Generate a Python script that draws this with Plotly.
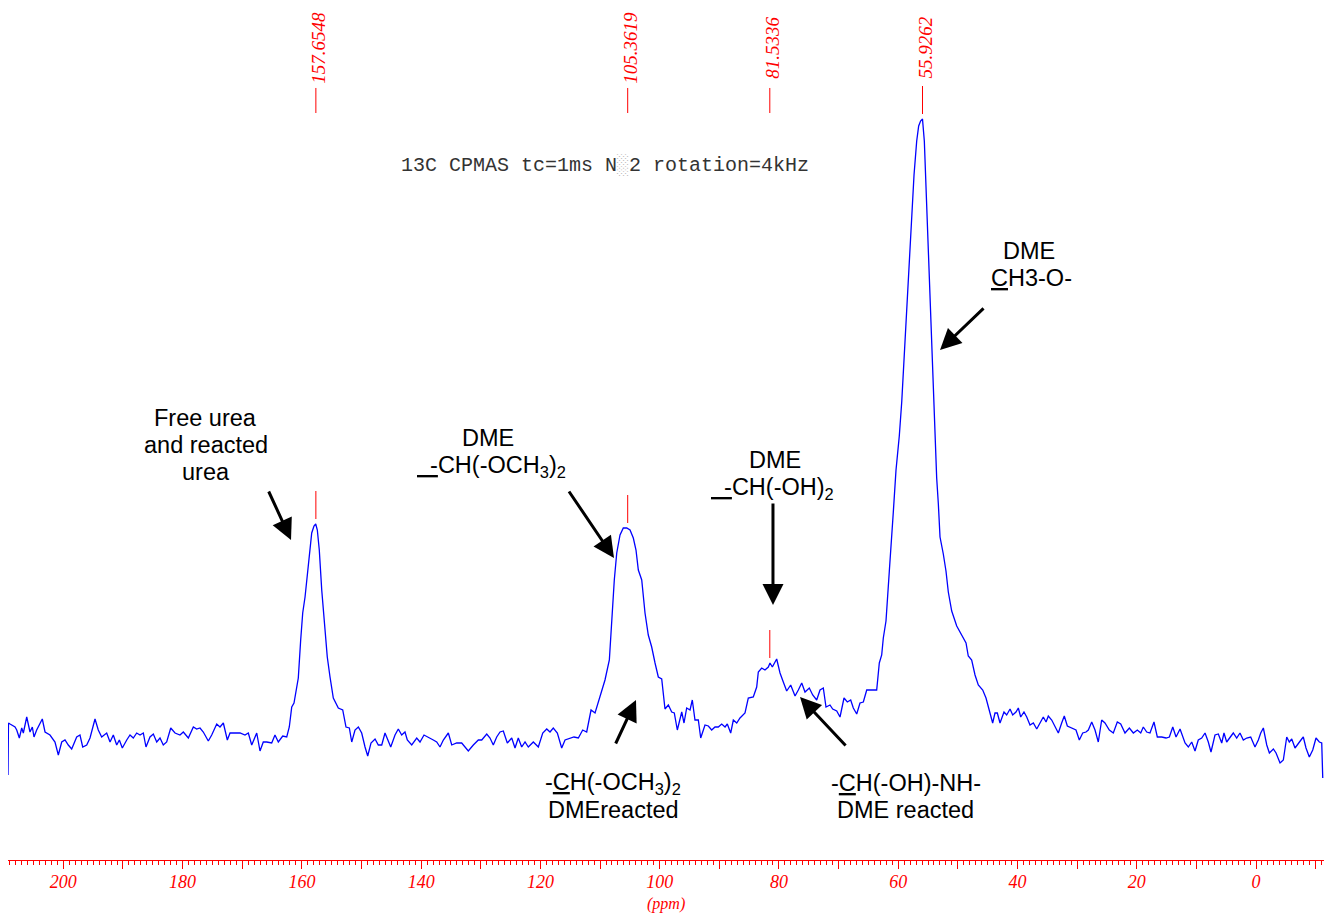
import plotly.graph_objects as go

# 13C CPMAS spectrum (chemical shift in ppm, intensity in arbitrary units)
PPM = [
    209.28, 209.20, 208.94, 208.10, 207.82, 207.38, 206.98, 206.71, 206.14, 205.59, 205.20, 204.92, 204.47,
    203.53, 203.07, 202.24, 201.40, 200.84, 200.27, 199.72, 199.17, 198.60, 197.76, 197.21, 196.75, 196.08,
    195.53, 194.69, 194.14, 193.57, 192.73, 192.17, 191.62, 191.05, 190.61, 190.11, 189.37, 188.82, 188.27,
    187.70, 187.14, 186.59, 186.14, 185.47, 184.91, 184.34, 183.79, 183.24, 182.67, 181.99, 181.27, 180.44,
    179.88, 179.04, 178.20, 177.64, 177.08, 176.53, 175.69, 175.12, 174.28, 173.73, 173.17, 172.50, 172.05,
    171.21, 170.37, 169.54, 168.98, 168.41, 167.57, 167.02, 166.47, 165.90, 165.06, 164.51, 163.95, 163.21,
    162.54, 162.11, 161.70, 161.32, 160.60, 160.20, 159.86, 159.47, 159.19, 158.75, 158.35, 157.97, 157.68,
    157.41, 157.08, 156.67, 156.29, 155.74, 155.28, 154.73, 153.89, 153.15, 152.60, 152.04, 151.64, 151.09,
    150.53, 149.97, 149.41, 148.96, 148.41, 147.73, 147.18, 146.61, 146.06, 145.51, 145.10, 144.38, 143.83,
    143.26, 142.71, 142.32, 141.58, 140.74, 140.19, 139.52, 138.80, 137.96, 137.39, 136.84, 136.28, 135.44,
    134.87, 134.04, 133.20, 132.64, 132.09, 131.25, 130.41, 129.84, 129.00, 128.45, 127.90, 127.33, 126.77,
    126.22, 125.55, 124.81, 124.26, 123.71, 123.14, 122.58, 122.03, 121.19, 120.35, 119.61, 118.94, 118.39,
    117.84, 117.16, 116.43, 115.87, 115.04, 114.37, 113.64, 112.91, 112.24, 111.51, 110.84, 110.01, 109.17,
    108.44, 108.04, 107.61, 107.20, 106.65, 106.10, 105.53, 104.97, 104.42, 103.97, 103.58, 103.01, 102.46,
    101.91, 101.34, 100.78, 100.23, 99.66, 99.11, 98.55, 97.98, 97.55, 97.04, 96.30, 95.92, 95.47,
    94.91, 94.53, 94.08, 93.52, 93.12, 92.40, 91.84, 91.28, 90.72, 90.17, 89.60, 89.04, 88.66,
    88.09, 87.65, 87.08, 86.53, 85.69, 85.14, 84.30, 83.73, 83.46, 82.89, 82.34, 81.78, 81.50,
    81.11, 80.38, 79.82, 79.27, 78.70, 78.03, 77.30, 76.75, 76.18, 75.63, 74.91, 74.34, 73.67,
    73.11, 72.56, 72.11, 71.44, 70.99, 70.31, 69.76, 69.09, 68.53, 67.97, 67.53, 66.96, 66.41,
    65.85, 65.28, 64.73, 64.17, 63.61, 63.17, 62.77, 62.50, 62.05, 61.49, 61.09, 60.82, 60.37,
    59.82, 59.41, 59.03, 58.57, 58.14, 57.74, 57.35, 56.90, 56.57, 56.25, 55.93, 55.62, 55.22,
    54.83, 54.55, 54.21, 53.83, 53.55, 53.27, 52.99, 52.44, 51.99, 51.60, 51.03, 50.19, 49.35,
    48.63, 48.25, 47.68, 47.12, 46.57, 45.83, 45.28, 44.61, 44.16, 43.77, 43.38, 42.93, 42.26,
    41.81, 41.25, 40.80, 40.25, 39.86, 39.46, 38.91, 38.45, 37.90, 37.34, 36.77, 36.22, 35.67,
    35.21, 34.83, 34.26, 33.71, 33.15, 32.59, 32.15, 31.64, 30.91, 30.19, 29.63, 29.06, 28.51,
    28.12, 27.55, 27.00, 26.45, 25.88, 25.33, 24.60, 23.93, 23.26, 22.69, 21.97, 21.24, 20.57,
    19.90, 19.33, 18.90, 18.33, 17.78, 17.11, 16.55, 15.81, 15.09, 14.53, 13.96, 13.41, 12.74,
    11.90, 11.35, 10.78, 10.23, 9.68, 9.11, 8.55, 8.00, 7.55, 6.88, 6.32, 5.75, 5.37,
    4.92, 4.36, 3.81, 3.24, 2.69, 2.13, 1.56, 0.89, 0.17, -0.39, -0.79, -1.23, -1.80,
    -2.24, -2.91, -3.36, -4.03, -4.58, -5.15, -5.58, -5.99, -6.54, -7.09, -7.66, -7.93, -8.38,
    -8.94, -9.51, -10.06, -10.62, -11.02, -11.19,
]
INTENSITY = [
    -30, 22, 21, 18, 15, 7, 17, 12, 28, 13, 18, 8, 15,
    26, 13, 10, 3, -10, 3, 5, 0, -4, 8, 10, -2, 0,
    7, 26, 15, 8, 12, 3, 10, 0, 5, -3, 5, 10, 7,
    12, 10, 12, -2, 8, 11, 3, 7, 0, 3, 17, 12, 10,
    13, 7, 18, 16, 17, 13, 4, 10, 21, 18, 22, 5, 12,
    12, 12, 10, 12, 0, 12, -6, 3, 3, 2, 10, 3, 9,
    8, 18, 38, 42, 67, 105, 132, 148, 165, 195, 212, 219, 221,
    215, 195, 155, 125, 88, 68, 47, 37, 35, 18, 17, 3, 15,
    18, 12, -2, -11, 2, 6, 0, 0, 12, 3, -2, 10, 16,
    10, 13, 5, 0, 7, 3, 10, 8, 5, 3, -2, 5, 12,
    0, 2, 2, -2, -6, 0, 5, 5, 11, 7, 0, 8, 13,
    14, 2, 7, -3, 7, -2, 3, -2, 3, -2, 12, 16, 13,
    17, 12, -3, 5, 7, 8, 7, 15, 13, 35, 32, 48, 65,
    85, 125, 165, 192, 210, 217, 217, 215, 207, 195, 175, 165, 132,
    110, 98, 82, 68, 66, 36, 40, 33, 32, 15, 33, 22, 37,
    35, 45, 25, 25, 7, 20, 19, 15, 18, 18, 21, 18, 21,
    12, 25, 22, 27, 32, 47, 48, 58, 73, 77, 75, 78, 82,
    78, 86, 72, 63, 54, 60, 49, 55, 62, 53, 57, 50, 45,
    55, 57, 38, 40, 36, 34, 28, 47, 43, 45, 37, 31, 42,
    43, 55, 55, 55, 55, 82, 90, 107, 124, 174, 216, 233, 275,
    309, 343, 385, 427, 486, 528, 570, 604, 619, 624, 626, 604, 541,
    477, 435, 376, 309, 267, 241, 208, 191, 174, 153, 134, 119, 109,
    102, 89, 85, 70, 60, 55, 47, 32, 22, 32, 32, 22, 33,
    30, 36, 30, 33, 37, 28, 33, 28, 20, 22, 16, 22, 28,
    23, 29, 25, 18, 12, 22, 29, 19, 17, 15, 5, 12, 13,
    15, 23, 15, 3, 25, 22, 15, 12, 23, 21, 12, 17, 12,
    15, 12, 18, 13, 12, 23, 8, 8, 7, 8, 18, 8, 16,
    2, -2, 3, -6, 5, 7, 12, 3, -7, 10, 11, 2, 12,
    3, 8, 12, 7, 12, 5, 7, 8, -2, 5, 12, 17, 0,
    -8, -4, -8, -18, -15, 8, 3, 6, -3, 2, 6, 8, -3,
    -12, -5, 7, 3, 2, -33,
]

PEAK_PPM = [157.6548, 105.3619, 81.5336, 55.9262]
PEAK_LABELS = ["157.6548", "105.3619", "81.5336", "55.9262"]
PEAK_HEIGHT = [221, 217, 82, 626]

TICK_VALS = [200, 190, 180, 170, 160, 150, 140, 130, 120, 110, 100, 90, 80, 70, 60, 50, 40, 30, 20, 10, 0, -10]
TICK_TEXT = ["200", "", "180", "", "160", "", "140", "", "120", "", "100", "", "80", "", "60", "", "40", "", "20", "", "0", ""]

RED = "#ff0000"
SANS = "Liberation Sans, Arial, sans-serif"
SERIF = "Liberation Serif, Times New Roman, serif"

fig = go.Figure()
fig.add_trace(go.Scatter(x=PPM, y=INTENSITY, mode="lines",
                         line=dict(color="#0000ff", width=1.3), hoverinfo="skip"))

shapes = []
annotations = []
for p, lab, h in zip(PEAK_PPM, PEAK_LABELS, PEAK_HEIGHT):
    shapes.append(dict(type="line", xref="x", yref="paper", x0=p, x1=p, y0=0.8686, y1=0.8977,
                       line=dict(color=RED, width=1)))
    shapes.append(dict(type="line", xref="x", yref="y", x0=p, x1=p, y0=h + 5, y1=h + 33,
                       line=dict(color=RED, width=1)))
    annotations.append(dict(x=p, y=0.9442, xref="x", yref="paper", text=lab, textangle=-90,
                            showarrow=False, xshift=3, xanchor="center", yanchor="middle",
                            font=dict(family=SERIF, size=19, color=RED, style="italic")))

annotations.append(dict(x=109.17, y=580, xref="x", yref="y", showarrow=False,
                        text="13C CPMAS tc=1ms N<span style='color:#bbbbbb'>░</span>2 rotation=4kHz",
                        font=dict(family="Liberation Mono, Courier New, monospace", size=20, color="#333333")))

TXT = dict(family=SANS, size=23.5, color="black")
text_lines = [
    (176.08, 327, "Free urea"),
    (176.08, 300, "and reacted"),
    (176.08, 273, "urea"),
    (128.79, 307, "DME"),
    (128.12, 279, "<u>  -</u>CH(-OCH<sub>3</sub>)<sub>2</sub>"),
    (80.66, 285, "DME"),
    (81.16, 257, "<u>  -</u>CH(-OH)<sub>2</sub>"),
    (38.07, 494, "DME"),
    (37.73, 467, "<u>C</u>H3-O-"),
    (107.82, -38, "-<u>C</u>H(-OCH<sub>3</sub>)<sub>2</sub>"),
    (107.82, -65, "DMEreacted"),
    (58.69, -38, "-<u>C</u>H(-OH)-NH-"),
    (58.86, -65, "DME reacted"),
]
for x, y, t in text_lines:
    annotations.append(dict(x=x, y=y, xref="x", yref="y", text=t, showarrow=False, align="center",
                            xanchor="center", yanchor="middle", font=TXT))

arrows = [
    (161.82, 205, -23, -50),
    (107.66, 187, -46, -68),
    (81.00, 140, 0, -103),
    (52.99, 395, 45, -43),
    (103.97, 45, -21, 45),
    (76.47, 48, 47, 50),
]
for x, y, ax, ay in arrows:
    annotations.append(dict(x=x, y=y, xref="x", yref="y", text="", showarrow=True,
                            ax=ax, ay=ay, arrowhead=2, arrowsize=1.4, arrowwidth=3,
                            arrowcolor="black", standoff=0))

annotations.append(dict(x=0.5, y=-0.0512, xref="paper", yref="paper", text="(ppm)", showarrow=False,
                        xanchor="center", yanchor="middle",
                        font=dict(family=SERIF, size=16, color=RED, style="italic")))

fig.update_layout(
    width=1324, height=914,
    margin=dict(l=8, r=0, t=0, b=54),
    paper_bgcolor="white", plot_bgcolor="white",
    showlegend=False,
    shapes=shapes, annotations=annotations,
    xaxis=dict(range=[209.28, -11.40], showgrid=False, zeroline=False,
               showline=True, linecolor=RED, linewidth=1,
               ticks="outside", ticklen=8, tickwidth=1, tickcolor=RED,
               tickmode="array", tickvals=TICK_VALS, ticktext=TICK_TEXT,
               ticklabelstandoff=-3,
               tickfont=dict(family=SERIF, size=18, color=RED, style="italic"),
               minor=dict(tickmode="linear", tick0=0, dtick=1, ticks="outside",
                          ticklen=4, tickwidth=1, tickcolor=RED, showgrid=False)),
    yaxis=dict(range=[-115, 745], visible=False, showgrid=False, zeroline=False),
)

fig.write_html("out.html", config={"displayModeBar": False},
               post_script="document.body.style.margin='0';document.body.style.overflow='hidden';")
